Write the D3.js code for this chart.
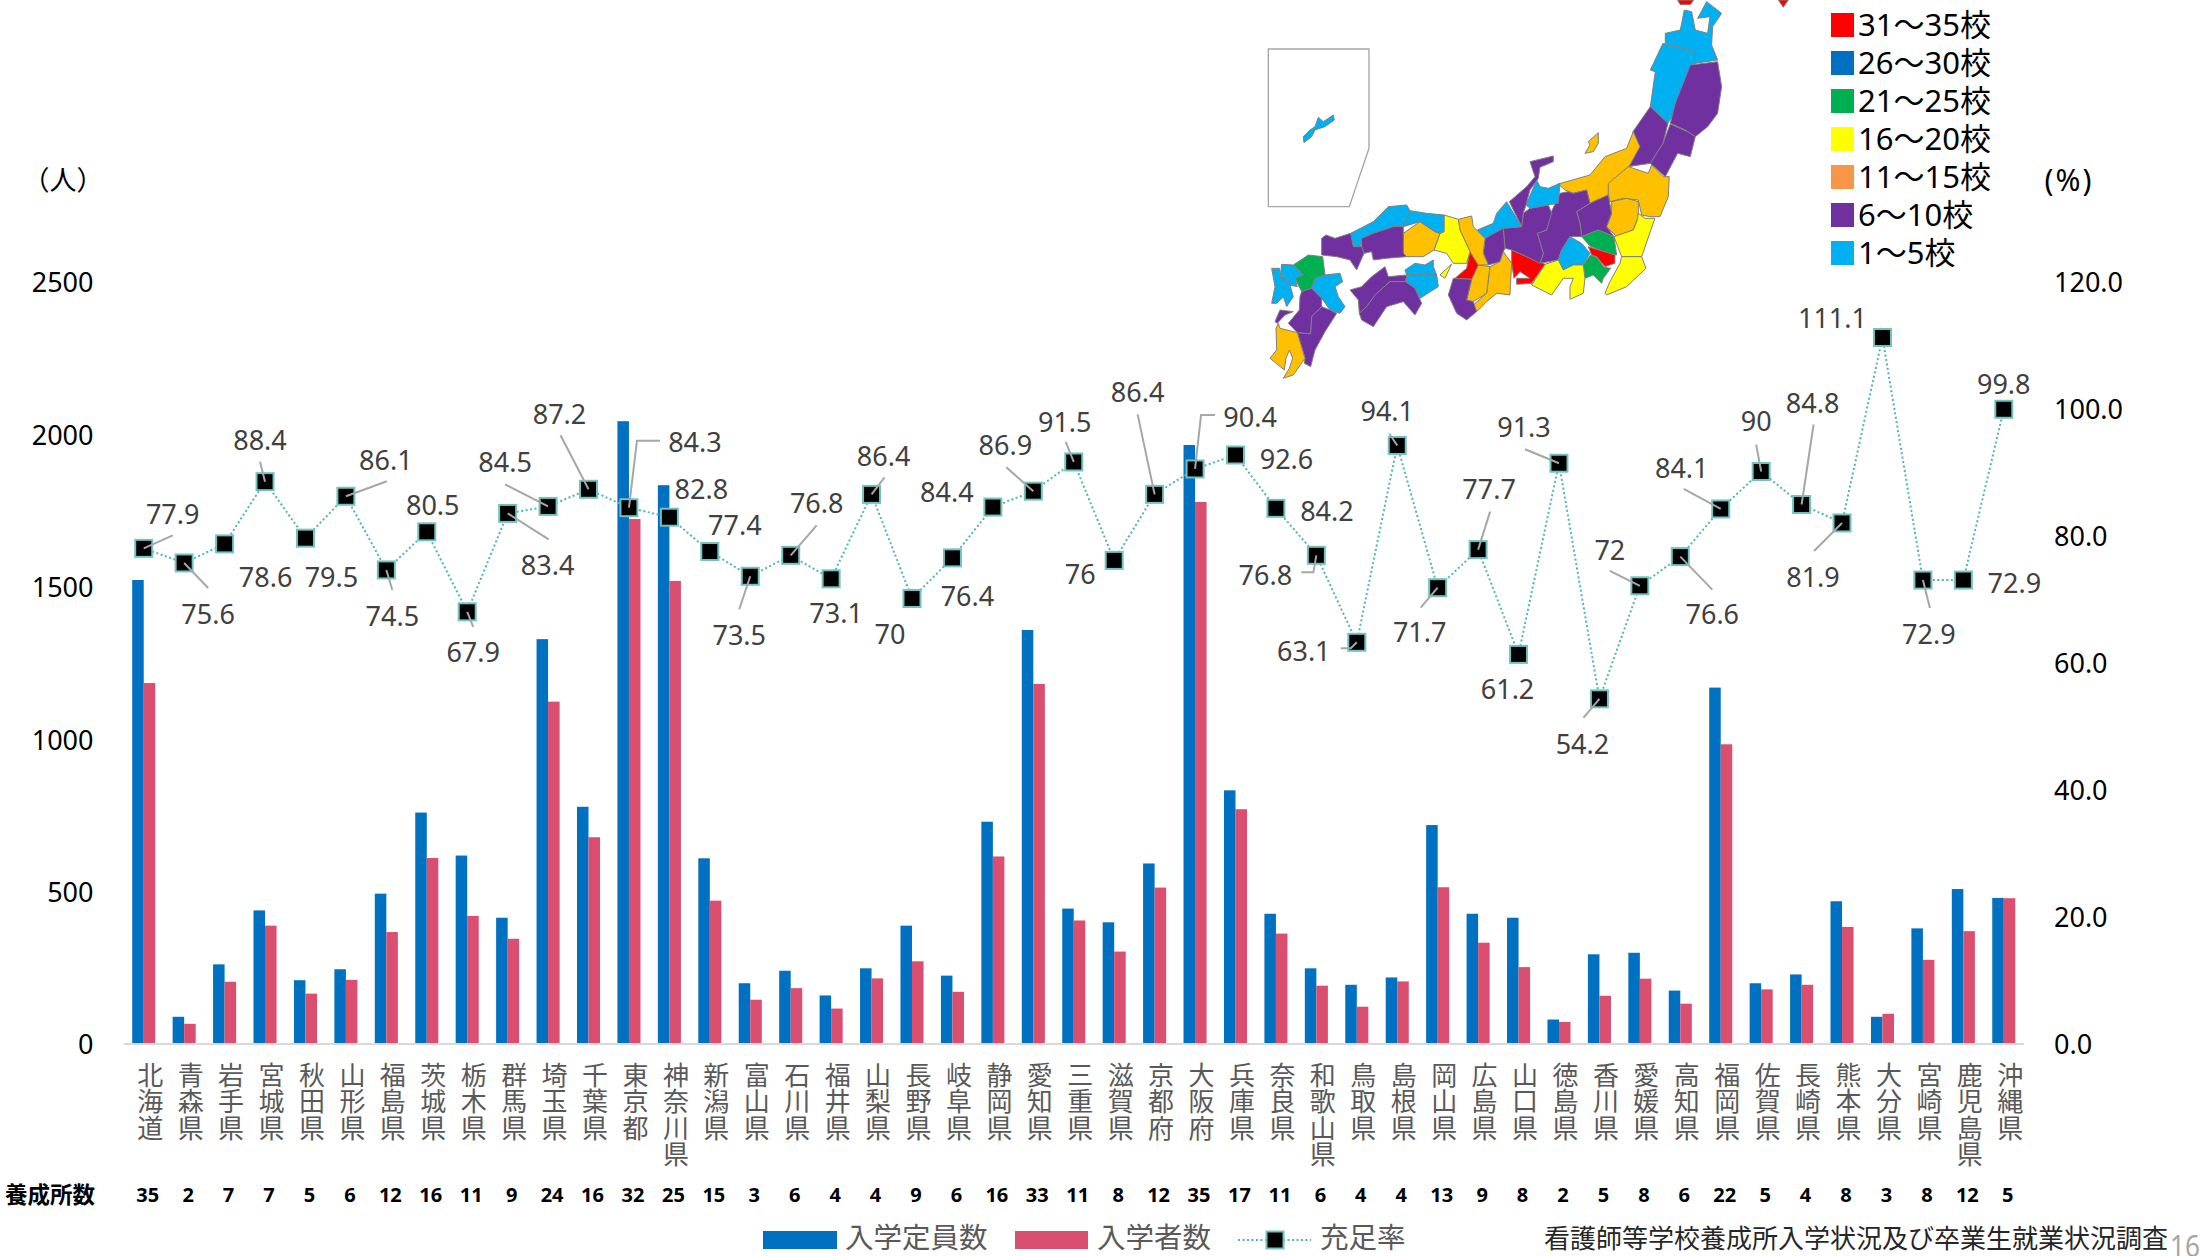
<!DOCTYPE html>
<html lang="ja">
<head>
<meta charset="utf-8">
<title>入学定員数・入学者数・充足率</title>
<script src="https://cdn.jsdelivr.net/npm/d3@7"></script>
<style>
  html, body { margin: 0; padding: 0; background: #fff; }
  svg { display: block; }
  text { font-family: "Noto Sans", "Noto Sans CJK JP", sans-serif; }
</style>
</head>
<body>
<div id="chart"></div>
<script>
const prefectures = ["北海道","青森県","岩手県","宮城県","秋田県","山形県","福島県","茨城県","栃木県","群馬県","埼玉県","千葉県","東京都","神奈川県","新潟県","富山県","石川県","福井県","山梨県","長野県","岐阜県","静岡県","愛知県","三重県","滋賀県","京都府","大阪府","兵庫県","奈良県","和歌山県","鳥取県","島根県","岡山県","広島県","山口県","徳島県","香川県","愛媛県","高知県","福岡県","佐賀県","長崎県","熊本県","大分県","宮崎県","鹿児島県","沖縄県"];
const capacity = [1519,86,258,435,206,242,490,756,615,411,1325,775,2040,1830,606,196,237,156,245,385,221,726,1355,441,396,589,1962,829,424,245,191,215,715,424,411,77,291,296,172,1166,196,225,465,86,376,505,476];
const enrolled = [1181,63,201,385,162,207,364,607,417,342,1120,675,1719,1516,467,142,180,113,212,268,168,612,1178,402,300,510,1775,767,359,188,119,202,511,329,249,69,155,211,129,980,176,191,381,96,273,367,475];
const fillRate = [77.9,75.6,78.6,88.4,79.5,86.1,74.5,80.5,67.9,83.4,84.5,87.2,84.3,82.8,77.4,73.5,76.8,73.1,86.4,70,76.4,84.4,86.9,91.5,76,86.4,90.4,92.6,84.2,76.8,63.1,94.1,71.7,77.7,61.2,91.3,54.2,72,76.6,84.1,90,84.8,81.9,111.1,72.9,72.9,99.8];
const schoolCounts = [35,2,7,7,5,6,12,16,11,9,24,16,32,25,15,3,6,4,4,9,6,16,33,11,8,12,35,17,11,6,4,4,13,9,8,2,5,8,6,22,5,4,8,3,8,12,5];
const leftTicks = [0,500,1000,1500,2000,2500];
const rightTicks = [0,20,40,60,80,100,120];
const mapLegendLabels = ["31～35校","26～30校","21～25校","16～20校","11～15校","6～10校","1～5校"];
const mapLegendColors = ["#ff0000","#0070c0","#00b050","#ffff00","#f79646","#7030a0","#00b0f0"];

// data label placement, offset from each marker, same order as prefectures
const labelOffsets = [[29,-34],[24,51],[41,33],[-5,-41],[26,39],[40,-36],[6,46],[6,-27],[6,40],[40,52],[-43,-44],[-29,-75],[66,-65],[32,-28],[25,-26],[-11,59],[26,-52],[5,34],[12,-38],[-22,36],[15,38],[-46,-15],[-28,-46],[-9,-40],[-34,14],[-17,-102],[55,-52],[51,4],[51,3],[-51,20],[-53,9],[-10,-34],[-18,45],[11,-60],[-11,35],[-35,-36],[-17,45],[-30,-36],[32,58],[-39,-41],[-5,-50],[11,-101],[-29,54],[-50,-19],[6,54],[51,3],[0,-25]];
// leader line bend points, offset from the marker; null = no leader
const leaderOffsets = [[[29,-13]],[[24,25]],null,[[-5,-20]],null,[[41,-15]],[[6,20]],null,[[6,15]],[[41,26]],[[-43,-22]],[[-28,-54]],[[8,-67],[31,-67]],null,null,[[-11,33]],[[26,-30]],null,[[13,-17]],null,null,null,[[-27,-24]],[[-8,-20]],null,[[-17,-80]],[[6,-54],[20,-54]],null,null,[[-3,17],[-15,17]],[[-6,6],[-16,6]],[[-8,-12]],[[-17,20]],[[12,-38]],null,[[-34,-14]],[[-16,19]],[[-30,-15]],[[32,33]],[[-37,-20]],[[-5,-27]],[[12,-80]],[[-28,28]],null,[[7,28]],null,null];

// traced outline of the inset map, in 3x pixels of the map area
const mapColors = { red: "#ff0000", blue: "#00b0f0", green: "#00b050", yellow: "#ffff00", orange: "#ffc000", purple: "#7030a0" };
const mapShapes = [
  ["red",[[1313,-90],[1361,-90],[1351,-76],[1321,-76]]],
  ["red",[[1615,-90],[1645,-90],[1630,-68]]],
  ["blue",[[1276,10],[1321,0],[1333,-60],[1355,-55],[1366,0],[1403,10],[1410,-40],[1373,-35],[1400,-85],[1445,-50],[1418,-10],[1415,45],[1433,90],[1366,100],[1366,65],[1276,40]]],
  ["blue",[[1269,40],[1366,65],[1366,100],[1328,180],[1306,240],[1284,280],[1231,230],[1246,125],[1231,120]]],
  ["purple",[[1351,105],[1433,95],[1445,170],[1433,250],[1403,290],[1366,320],[1336,300],[1291,280],[1306,220]]],
  ["purple",[[1291,282],[1343,305],[1366,320],[1351,380],[1313,370],[1276,440],[1231,400],[1269,340]]],
  ["purple",[[1231,230],[1284,280],[1269,340],[1231,400],[1164,410],[1194,340],[1179,305]]],
  ["orange",[[955,462],[1050,435],[1095,380],[1160,355],[1180,305],[1200,350],[1170,405],[1110,465],[1105,495],[1050,520],[1040,480],[1000,490],[975,480]]],
  ["orange",[[1035,370],[1050,345],[1045,335],[1075,308],[1075,340],[1060,365]]],
  ["orange",[[1105,460],[1165,410],[1225,430],[1235,405],[1270,440],[1288,440],[1285,500],[1260,560],[1230,560],[1205,555],[1195,510],[1150,505],[1110,515],[1105,495]]],
  ["orange",[[1115,515],[1160,505],[1195,515],[1195,560],[1180,600],[1130,620],[1100,590],[1115,550]]],
  ["yellow",[[1195,550],[1215,565],[1245,565],[1205,680],[1145,680],[1122,620],[1180,600],[1192,570]]],
  ["yellow",[[1145,680],[1205,680],[1218,715],[1160,770],[1100,795],[1095,790],[1110,755],[1140,700]]],
  ["purple",[[1010,545],[1050,520],[1105,495],[1115,550],[1100,590],[1122,620],[1075,600],[1025,620],[1020,580]]],
  ["purple",[[925,565],[960,490],[985,485],[1000,490],[1040,480],[1050,520],[1010,545],[1020,580],[1025,620],[990,620],[965,660],[955,690],[900,700],[910,670],[892,610],[920,600]]],
  ["green",[[1025,620],[1075,600],[1122,620],[1130,675],[1110,672],[1050,648]]],
  ["red",[[1045,650],[1125,675],[1125,700],[1095,710],[1070,680],[1055,675]]],
  ["green",[[1030,705],[1052,675],[1070,682],[1092,712],[1112,715],[1090,745],[1085,760],[1060,735],[1035,745]]],
  ["blue",[[965,660],[990,620],[1025,640],[1050,670],[1030,705],[1000,705],[970,720],[955,690]]],
  ["yellow",[[875,765],[915,703],[955,690],[970,720],[1000,705],[1030,705],[1035,745],[1030,790],[990,808],[990,770],[1000,745],[970,745],[935,795]]],
  ["red",[[815,660],[860,680],[915,703],[875,760],[830,763],[830,745],[870,745],[840,725],[822,745],[815,700]]],
  ["purple",[[845,590],[850,550],[870,535],[925,525],[935,550],[920,600],[892,610],[910,670],[900,700],[860,680],[815,660],[795,655],[790,595]]],
  ["blue",[[858,525],[890,450],[900,470],[925,475],[960,460],[955,520],[925,525],[870,535]]],
  ["purple",[[808,515],[860,470],[885,440],[870,395],[940,378],[940,395],[900,412],[895,445],[870,480],[858,525],[850,550],[845,590]]],
  ["blue",[[770,550],[800,515],[845,590],[790,595],[735,625],[712,600],[760,580]]],
  ["purple",[[735,625],[790,595],[795,655],[790,665],[780,695],[745,705],[730,670]]],
  ["orange",[[790,665],[815,700],[810,795],[770,790],[740,815],[710,845],[700,825],[740,790],[750,710],[780,695]]],
  ["orange",[[715,705],[750,710],[740,790],[700,815],[680,810],[695,748]]],
  ["red",[[690,665],[715,705],[695,748],[645,745],[680,715]]],
  ["purple",[[640,745],[695,748],[680,810],[700,815],[710,845],[680,870],[650,850],[625,795]]],
  ["orange",[[655,568],[695,558],[700,590],[735,625],[730,670],[745,705],[715,705],[690,665],[660,600]]],
  ["yellow",[[612,555],[655,568],[660,600],[690,665],[680,700],[640,700],[620,670],[582,660],[600,610],[612,605]]],
  ["yellow",[[600,735],[635,702],[615,745]]],
  ["orange",[[490,610],[540,575],[585,605],[600,610],[582,660],[550,680],[500,680],[490,670]]],
  ["blue",[[510,542],[560,550],[612,555],[612,605],[600,610],[585,605],[540,575],[490,590]]],
  ["blue",[[332,610],[400,575],[445,530],[500,525],[510,542],[490,590],[460,590],[400,610],[365,625],[360,660],[340,650]]],
  ["purple",[[365,625],[400,610],[460,590],[490,590],[490,670],[500,680],[440,685],[400,690],[395,665],[372,670],[365,650]]],
  ["purple",[[245,625],[258,615],[285,625],[332,610],[340,650],[365,650],[372,670],[350,720],[330,690],[290,680],[245,675]]],
  ["blue",[[495,720],[525,700],[555,705],[580,690],[580,710],[590,735],[500,735]]],
  ["blue",[[500,735],[590,735],[595,770],[540,805],[525,775],[497,755]]],
  ["purple",[[330,780],[365,770],[395,740],[435,710],[445,740],[500,735],[497,755],[450,755],[405,795],[380,830],[358,850],[355,810]]],
  ["purple",[[380,830],[405,795],[450,755],[497,755],[525,775],[545,820],[525,855],[490,815],[440,830],[400,890],[365,870],[358,850]]],
  ["green",[[160,705],[205,675],[248,680],[255,735],[225,745],[215,775],[185,785],[165,745],[190,735]]],
  ["blue",[[125,703],[160,705],[190,735],[165,745],[172,770],[150,765],[135,745],[120,745]]],
  ["blue",[[95,715],[118,715],[120,745],[135,745],[150,765],[160,800],[140,830],[130,800],[110,820],[95,820],[105,770]]],
  ["blue",[[215,775],[225,745],[255,735],[300,730],[308,755],[285,770],[295,800],[315,830],[300,850],[270,840],[245,805]]],
  ["purple",[[185,785],[215,775],[245,805],[245,830],[215,860],[212,912],[172,908],[145,880],[178,840],[180,800]]],
  ["purple",[[105,875],[120,840],[160,845],[135,855],[112,880]]],
  ["purple",[[215,860],[245,830],[270,840],[290,850],[255,905],[225,960],[212,1010],[193,1000],[195,985],[172,908],[212,912]]],
  ["orange",[[115,880],[120,895],[172,908],[195,985],[160,1035],[130,1045],[148,1015],[158,985],[148,960],[138,985],[133,1020],[90,985],[110,960],[108,895]]],
  ["blue",[[190,320],[210,300],[225,290],[235,262],[250,275],[280,255],[283,270],[255,290],[225,300],[215,320],[192,338]]]
];
const insetBox = [[85,57],[387,57],[387,355],[328,530],[85,530]];

const width = 2201, height = 1256;
const baseY = 1043, topY = 281;
const plotLeft = 123.5, plotRight = 2024;
const barBlue = "#0070c0", barPink = "#da4e6f", teal = "#4fb6b4", tealEdge = "#6fc3c1";

const svg = d3.select("#chart").append("svg")
  .attr("width", width)
  .attr("height", height)
  .attr("viewBox", `0 0 ${width} ${height}`);

const x = d3.scaleBand().domain(prefectures).range([plotLeft, plotRight]).paddingInner(0.43).paddingOuter(0.215);
const xSub = d3.scaleBand().domain(["capacity", "enrolled"]).range([0, x.bandwidth()]);
const yLeft = d3.scaleLinear().domain([0, 2500]).range([baseY, topY]);
const yRight = d3.scaleLinear().domain([0, 120]).range([baseY, topY]);
const cx = name => x(name) + x.bandwidth() / 2;

// axes
const leftAxis = svg.append("g")
  .attr("transform", `translate(${plotLeft},0)`)
  .call(d3.axisLeft(yLeft).tickValues(leftTicks).tickFormat(d3.format("d")).tickSize(0).tickPadding(30));
const rightAxis = svg.append("g")
  .attr("transform", `translate(${plotRight},0)`)
  .call(d3.axisRight(yRight).tickValues(rightTicks).tickFormat(d3.format(".1f")).tickSize(0).tickPadding(30));
[leftAxis, rightAxis].forEach(axis => {
  axis.select(".domain").remove();
  axis.selectAll("text")
    .attr("dy", ".4em")
    .attr("font-family", '"Noto Sans", sans-serif')
    .attr("font-size", 27)
    .attr("fill", "#000");
});

svg.append("text").attr("x", 63).attr("y", 180).attr("dy", ".36em")
  .attr("text-anchor", "middle").attr("font-size", 27).attr("fill", "#000").text("（人）");
svg.append("text").attr("x", 2069).attr("y", 180).attr("dy", ".36em")
  .attr("text-anchor", "middle").attr("font-size", 30).attr("letter-spacing", 2).attr("fill", "#000").text("(%)");

// bars
const drawBars = (values, key, color) => {
  svg.append("g").selectAll("rect")
    .data(values)
    .enter()
    .append("rect")
    .attr("x", (d, i) => x(prefectures[i]) + xSub(key))
    .attr("width", xSub.bandwidth())
    .attr("y", d => yLeft(d))
    .attr("height", d => baseY - yLeft(d))
    .attr("fill", color);
};
drawBars(capacity, "capacity", barBlue);
drawBars(enrolled, "enrolled", barPink);

svg.append("line")
  .attr("x1", plotLeft).attr("x2", plotRight)
  .attr("y1", baseY + 1).attr("y2", baseY + 1)
  .attr("stroke", "#d9d9d9").attr("stroke-width", 2);

// fill rate line
const line = d3.line()
  .x((d, i) => cx(prefectures[i]))
  .y(d => yRight(d));

svg.append("path")
  .datum(fillRate)
  .attr("fill", "none")
  .attr("stroke", teal)
  .attr("stroke-width", 2)
  .attr("stroke-dasharray", "2 2.5")
  .attr("d", line);

svg.append("g").selectAll("rect")
  .data(fillRate)
  .enter()
  .append("rect")
  .attr("x", (d, i) => cx(prefectures[i]) - 8.5)
  .attr("y", d => yRight(d) - 8.5)
  .attr("width", 17)
  .attr("height", 17)
  .attr("fill", "#000")
  .attr("stroke", tealEdge)
  .attr("stroke-width", 2);

// leaders sit on top of the markers
const leaderLine = d3.line();
fillRate.forEach((v, i) => {
  const bends = leaderOffsets[i];
  if (!bends) return;
  const mx = cx(prefectures[i]), my = yRight(v);
  svg.append("path")
    .attr("fill", "none")
    .attr("stroke", "#a6a6a6")
    .attr("stroke-width", 2)
    .attr("d", leaderLine([[mx, my], ...bends.map(b => [mx + b[0], my + b[1]])]));
});

svg.append("g").selectAll("text")
  .data(fillRate)
  .enter()
  .append("text")
  .attr("x", (d, i) => cx(prefectures[i]) + labelOffsets[i][0])
  .attr("y", (d, i) => yRight(d) + labelOffsets[i][1])
  .attr("dy", ".36em")
  .attr("text-anchor", "middle")
  .attr("font-family", '"Noto Sans", sans-serif')
  .attr("font-size", 27)
  .attr("fill", "#404040")
  .text(d => d);

// category names, set vertically
svg.append("g").selectAll("text")
  .data(prefectures)
  .enter()
  .append("text")
  .attr("x", d => cx(d) + 5)
  .attr("y", 1062)
  .style("writing-mode", "vertical-rl")
  .style("text-orientation", "upright")
  .attr("letter-spacing", 0.5)
  .attr("font-family", '"Noto Sans CJK JP", sans-serif')
  .attr("font-size", 26)
  .attr("fill", "#595959")
  .text(d => d);

// school counts row
svg.append("text")
  .attr("x", 5).attr("y", 1195).attr("dy", ".36em")
  .attr("font-family", '"Noto Sans CJK JP", sans-serif')
  .attr("font-size", 22.5).attr("font-weight", 700).attr("fill", "#000")
  .text("養成所数");

svg.append("g").selectAll("text")
  .data(schoolCounts)
  .enter()
  .append("text")
  .attr("x", (d, i) => cx(prefectures[i]) + 4)
  .attr("y", 1195)
  .attr("dy", ".36em")
  .attr("text-anchor", "middle")
  .attr("font-family", '"Liberation Sans", sans-serif')
  .attr("font-size", 20)
  .attr("font-weight", 700)
  .attr("fill", "#000")
  .text(d => d);

// bottom legend
const legend = svg.append("g");
const legendText = (lx, label) => legend.append("text")
  .attr("x", lx).attr("y", 1237.5).attr("dy", ".36em")
  .attr("font-family", '"Noto Sans CJK JP", sans-serif')
  .attr("font-size", 28.5).attr("fill", "#595959").text(label);
legend.append("rect").attr("x", 763).attr("y", 1231).attr("width", 74).attr("height", 18).attr("fill", barBlue);
legendText(845, "入学定員数");
legend.append("rect").attr("x", 1015).attr("y", 1231).attr("width", 73).attr("height", 18).attr("fill", barPink);
legendText(1097, "入学者数");
legend.append("line").attr("x1", 1238).attr("x2", 1311).attr("y1", 1240).attr("y2", 1240)
  .attr("stroke", teal).attr("stroke-width", 2).attr("stroke-dasharray", "2 2.5");
legend.append("rect").attr("x", 1266.5).attr("y", 1231.5).attr("width", 17).attr("height", 17)
  .attr("fill", "#000").attr("stroke", tealEdge).attr("stroke-width", 2);
legendText(1320, "充足率");

svg.append("text")
  .attr("x", 1544).attr("y", 1238.5).attr("dy", ".36em")
  .attr("font-family", '"Noto Sans CJK JP", sans-serif')
  .attr("font-size", 26).attr("fill", "#262626")
  .text("看護師等学校養成所入学状況及び卒業生就業状況調査");

svg.append("text")
  .attr("x", 2170).attr("y", 1246).attr("dy", ".36em")
  .attr("font-family", '"Noto Sans", sans-serif')
  .attr("font-size", 30).attr("fill", "#a6a6a6")
  .attr("textLength", 30).attr("lengthAdjust", "spacingAndGlyphs")
  .text("16");

// map
const mapG = svg.append("g").attr("transform", "translate(1240,30) scale(0.3333)");
const shapeLine = d3.line().curve(d3.curveLinearClosed);
mapG.append("path")
  .attr("d", shapeLine(insetBox))
  .attr("fill", "#fff")
  .attr("stroke", "#a6a6a6")
  .attr("stroke-width", 4);
mapG.selectAll("path.pref")
  .data(mapShapes)
  .enter()
  .append("path")
  .attr("class", "pref")
  .attr("d", d => shapeLine(d[1]))
  .attr("fill", d => mapColors[d[0]])
  .attr("stroke", "#808080")
  .attr("stroke-width", 3)
  .attr("stroke-linejoin", "round");

// map legend
const mapLegend = svg.append("g");
mapLegendLabels.forEach((label, i) => {
  const ly = 25 + i * 38;
  mapLegend.append("rect")
    .attr("x", 1831).attr("y", ly - 12)
    .attr("width", 23).attr("height", 24)
    .attr("fill", mapLegendColors[i]);
  mapLegend.append("text")
    .attr("x", 1858).attr("y", ly).attr("dy", ".36em")
    .attr("font-size", 31).attr("fill", "#000")
    .text(label);
});
</script>
</body>
</html>
